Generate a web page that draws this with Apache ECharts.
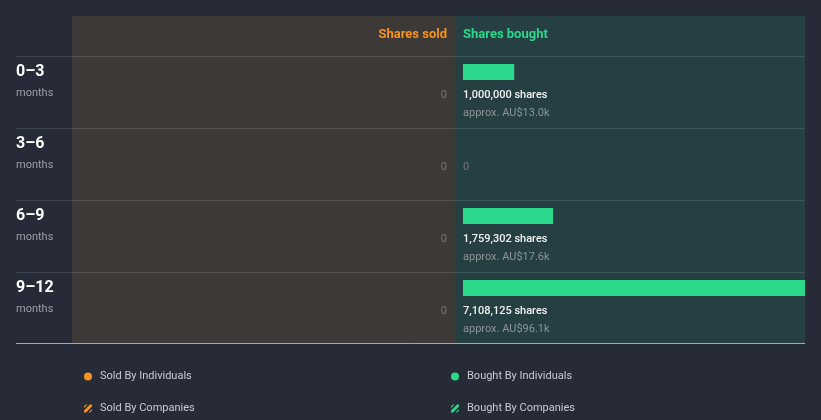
<!DOCTYPE html>
<html><head><meta charset="utf-8">
<script src="https://cdn.jsdelivr.net/npm/echarts@6/dist/echarts.min.js"></script>
<style>html,body{margin:0;padding:0;background:#262b37;}#c{width:821px;height:420px;}</style>
</head><body><div id="c"></div>
<script>
const periods = ['0–3', '3–6', '6–9', '9–12'];
const periodUnit = 'months';
const soldShares = [0, 0, 0, 0];
const boughtShares = [1000000, 0, 1759302, 7108125];
const boughtValue = ['AU$13.0k', '', 'AU$17.6k', 'AU$96.1k'];
const headers = ['Shares sold', 'Shares bought'];
const legendNames = ['Sold By Individuals', 'Sold By Companies', 'Bought By Individuals', 'Bought By Companies'];

const ORANGE = '#f7931e', GREEN = '#2bd98a';
const fmt = n => n.toLocaleString('en-US');
const hatch = 'path://M0,6 L6,0 L8,0 L8,2 L2,8 L0,8 Z M0,2 L2,0 L3.5,0 L0,3.5 Z M8,6 L6,8 L4.5,8 L8,4.5 Z';

const chart = echarts.init(document.getElementById('c'), null, {renderer: 'canvas'});
const rowTop = 56, rowH = 72;
const graphics = [
  {type: 'rect', shape: {x: 72, y: 16, width: 383, height: 327}, style: {fill: '#3d3936'}, z: -10},
  {type: 'rect', shape: {x: 455, y: 16, width: 350, height: 327}, style: {fill: '#253f42'}, z: -10},
  {type: 'text', x: 447, y: 35, style: {text: headers[0], fill: ORANGE, font: 'bold 13px Roboto', align: 'right', verticalAlign: 'middle'}},
  {type: 'text', x: 463, y: 35, style: {text: headers[1], fill: GREEN, font: 'bold 13px Roboto', align: 'left', verticalAlign: 'middle'}},
  {type: 'line', shape: {x1: 16, y1: 343.5, x2: 805, y2: 343.5}, style: {stroke: '#a4a9b0', lineWidth: 1}, z: 5}
];
periods.forEach((p, i) => {
  const y = rowTop + i * rowH + 0.5;
  graphics.push({type: 'line', shape: {x1: 16, y1: y, x2: 805, y2: y}, style: {stroke: 'rgba(255,255,255,0.12)', lineWidth: 1}, z: 5});
});

const yCat = (gi, show) => ({
  type: 'category', gridIndex: gi, data: periods, inverse: true,
  axisLine: {show: false}, axisTick: {show: false}, splitLine: {show: false},
  axisLabel: show ? {
    show: true, align: 'left', margin: 56, padding: [20, 0, 0, 0],
    formatter: v => '{a|' + v + '}\n{b|' + periodUnit + '}',
    rich: {a: {color: '#ffffff', fontSize: 16, fontWeight: 'bold', fontFamily: 'Roboto', lineHeight: 22},
           b: {color: '#9a9ea6', fontSize: 11, fontFamily: 'Roboto', lineHeight: 21}}
  } : {show: false}
});

const legendText = {color: '#c9cbcf', fontSize: 11, fontFamily: 'Roboto', padding: [0, 0, 0, 3]};

chart.setOption({
  backgroundColor: '#262b37',
  animation: false,
  graphic: graphics,
  grid: [
    {left: 72, right: 374, top: 36, height: 288},
    {left: 463, right: 16, top: 36, height: 288}
  ],
  xAxis: [
    {type: 'value', gridIndex: 0, inverse: true, min: 0, max: 1, show: false},
    {type: 'value', gridIndex: 1, min: 0, max: 6680000, show: false}
  ],
  yAxis: [yCat(0, true), yCat(1, false)],
  legend: [
    {left: 84, top: 371, padding: 0, orient: 'vertical', itemGap: 21, itemWidth: 8, itemHeight: 8,
     data: [{name: legendNames[0], icon: 'circle'}, {name: legendNames[1], icon: hatch}], textStyle: legendText},
    {left: 451, top: 371, padding: 0, orient: 'vertical', itemGap: 21, itemWidth: 8, itemHeight: 8,
     data: [{name: legendNames[2], icon: 'circle'}, {name: legendNames[3], icon: hatch}], textStyle: legendText}
  ],
  series: [
    {name: legendNames[0], type: 'bar', xAxisIndex: 0, yAxisIndex: 0, data: soldShares, barWidth: 16, barGap: '-100%',
     itemStyle: {color: ORANGE},
     label: {show: true, position: [0, 22], align: 'right', color: '#74787c', fontSize: 11, fontFamily: 'Roboto', lineHeight: 18,
       formatter: p => fmt(p.value)}},
    {name: legendNames[1], type: 'bar', xAxisIndex: 0, yAxisIndex: 0, data: [], barWidth: 16, barGap: '-100%', itemStyle: {color: ORANGE}},
    {name: legendNames[2], type: 'bar', xAxisIndex: 1, yAxisIndex: 1, data: boughtShares, barWidth: 16, barGap: '-100%', clip: true,
     itemStyle: {color: GREEN},
     label: {show: true, position: [0, 22], align: 'left',
       formatter: p => p.value === 0 ? '{z|0}' : '{a|' + fmt(p.value) + ' shares}\n{b|approx. ' + boughtValue[p.dataIndex] + '}',
       rich: {a: {color: '#f2f2f2', fontSize: 11, fontWeight: 500, fontFamily: 'Roboto', lineHeight: 18},
              b: {color: '#8d9498', fontSize: 11, fontFamily: 'Roboto', lineHeight: 18},
              z: {color: '#74787c', fontSize: 11, fontFamily: 'Roboto', lineHeight: 18}}}},
    {name: legendNames[3], type: 'bar', xAxisIndex: 1, yAxisIndex: 1, data: [], barWidth: 16, barGap: '-100%', itemStyle: {color: GREEN}}
  ]
});
</script></body></html>
